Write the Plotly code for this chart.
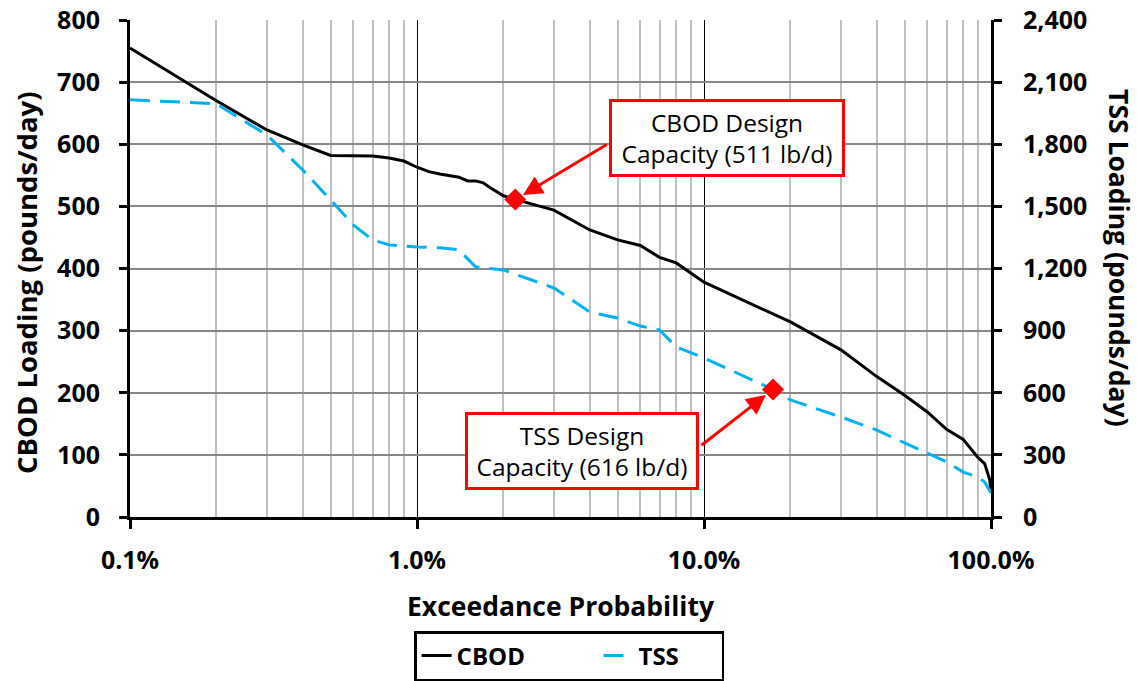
import plotly.graph_objects as go

# Exceedance probability (%) and loadings
exceed_pct = [0.1, 0.2, 0.3, 0.4, 0.5, 0.6, 0.7, 0.8, 0.9, 1.0, 1.1, 1.2, 1.3, 1.4, 1.5,
              1.6, 1.7, 1.8, 2.0, 2.2, 2.5, 3.0, 4.0, 5.0, 6.0, 7.0, 8.0, 10.0, 20.0,
              30.0, 40.0, 50.0, 60.0, 70.0, 80.0, 90.0, 95.0, 99.0, 100.0]
cbod = [755, 670, 623, 599, 582, 581, 581, 578, 573, 563, 556, 552, 550, 547, 541,
        541, 538, 530, 517, 511, 504, 494, 462, 446, 437, 418, 409, 378, 314,
        269, 226, 196, 169, 141, 125, 96, 86, 60, 40]

tss_pct = [0.1, 0.2, 0.3, 0.4, 0.5, 0.6, 0.7, 0.8, 1.0, 1.2, 1.4, 1.6, 2.0, 3.0, 4.0,
           5.0, 6.0, 7.0, 8.0, 10.0, 17.4, 20.0, 30.0, 40.0, 50.0, 60.0, 70.0, 80.0,
           90.0, 95.0, 100.0]
tss = [2015, 1995, 1845, 1676, 1531, 1410, 1338, 1314, 1304, 1300, 1290, 1208, 1193,
       1106, 990, 961, 922, 903, 821, 768, 616, 565, 483, 420, 358, 309, 266, 217,
       193, 169, 116]

cbod_design_x, cbod_design = 2.2, 511
tss_design_x, tss_design = 17.4, 616

x_tickvals = [0.1, 1, 10, 100]
x_ticktext = ["0.1%", "1.0%", "10.0%", "100.0%"]
minor_vals = [m * d for d in (0.1, 1, 10) for m in range(2, 10)]

FONT = "Open Sans"
NB = "\u00a0"

fig = go.Figure()
fig.add_trace(go.Scatter(x=exceed_pct, y=cbod, name="CBOD" + NB * 11, mode="lines",
                         line=dict(color="black", width=3)))
fig.add_trace(go.Scatter(x=tss_pct, y=tss, name="TSS" + NB * 6, mode="lines", yaxis="y2",
                         line=dict(color="#00B0F0", width=3, dash="20px,10px")))
fig.add_trace(go.Scatter(x=[cbod_design_x], y=[cbod_design], mode="markers", showlegend=False,
                         marker=dict(symbol="diamond", size=17, color="#FF0000")))
fig.add_trace(go.Scatter(x=[tss_design_x], y=[tss_design], mode="markers", yaxis="y2",
                         showlegend=False,
                         marker=dict(symbol="diamond", size=17, color="#FF0000")))

tickfont = dict(family=FONT, size=25, color="black", weight="bold")
titlefont = dict(family=FONT, size=26.5, color="black", weight="bold")

fig.update_layout(
    width=1137, height=681,
    margin=dict(l=130, r=146, t=20, b=164, autoexpand=False),
    paper_bgcolor="white", plot_bgcolor="white",
    showlegend=True,
    legend=dict(orientation="h", x=0.51, xanchor="center",
                yref="container", y=1 - 631 / 681, yanchor="top",
                bordercolor="black", borderwidth=2.5,
                font=dict(family=FONT, size=24, color="black", weight="bold")),
    xaxis=dict(type="log", range=[-1, 2], tickvals=x_tickvals, ticktext=x_ticktext,
               tickfont=tickfont, showgrid=True, gridcolor="black", gridwidth=1,
               showline=True, linecolor="black", linewidth=3,
               ticks="outside", ticklen=9, tickwidth=3, tickcolor="black",
               ticklabelstandoff=10, automargin=False,
               minor=dict(tickvals=minor_vals, showgrid=True, gridcolor="#BFBFBF",
                          gridwidth=1.5, ticks=""),
               title=dict(text="Exceedance Probability", standoff=23, font=titlefont),
               zeroline=False),
    yaxis=dict(range=[0, 800], dtick=100, tickfont=tickfont,
               showgrid=True, gridcolor="#878787", gridwidth=1.5,
               showline=True, linecolor="black", linewidth=3,
               ticks="outside", ticklen=8, tickwidth=3, tickcolor="black",
               ticklabelstandoff=14, zeroline=False, automargin=False),
    yaxis2=dict(range=[0, 2400], dtick=300, tickformat=",", overlaying="y", side="right",
                tickfont=tickfont, showgrid=False,
                showline=True, linecolor="black", linewidth=3,
                ticks="outside", ticklen=8, tickwidth=3, tickcolor="black",
                ticklabelstandoff=16, zeroline=False, automargin=False),
    annotations=[
        dict(text="CBOD Loading (pounds/day)", xref="paper", yref="paper",
             x=-0.1196, y=0.471, textangle=-90, showarrow=False, xanchor="center",
             yanchor="middle", font=dict(family=FONT, size=27.5, color="black", weight="bold")),
        dict(text="TSS Loading (pounds/day)", xref="paper", yref="paper",
             x=1.1487, y=0.521, textangle=90, showarrow=False, xanchor="center",
             yanchor="middle", font=dict(family=FONT, size=26.5, color="black", weight="bold")),
        dict(text="CBOD Design<br>Capacity (511 lb/d)", xref="paper", yref="paper",
             x=0.693, y=0.7616, showarrow=False, xanchor="center", yanchor="middle",
             width=228, height=70, borderpad=1, bgcolor="white", bordercolor="#FF0000",
             borderwidth=3, font=dict(family=FONT, size=24.5, color="black")),
        dict(text="TSS Design<br>Capacity (616 lb/d)", xref="paper", yref="paper",
             x=0.525, y=0.1328, showarrow=False, xanchor="center", yanchor="middle",
             width=226, height=70, borderpad=1, bgcolor="white", bordercolor="#FF0000",
             borderwidth=3, font=dict(family=FONT, size=24.5, color="black")),
        dict(text="", x=0.34242, y=cbod_design, xref="x", yref="y", showarrow=True,
             ax=93, ay=-56, arrowhead=2, arrowsize=1.3, arrowwidth=3, arrowcolor="#FF0000",
             standoff=9),
        dict(text="", x=1.24055, y=tss_design, xref="x", yref="y2", showarrow=True,
             ax=-73, ay=57, arrowhead=2, arrowsize=1.3, arrowwidth=3, arrowcolor="#FF0000",
             standoff=9),
    ],
)

fig.write_html("out.html")
